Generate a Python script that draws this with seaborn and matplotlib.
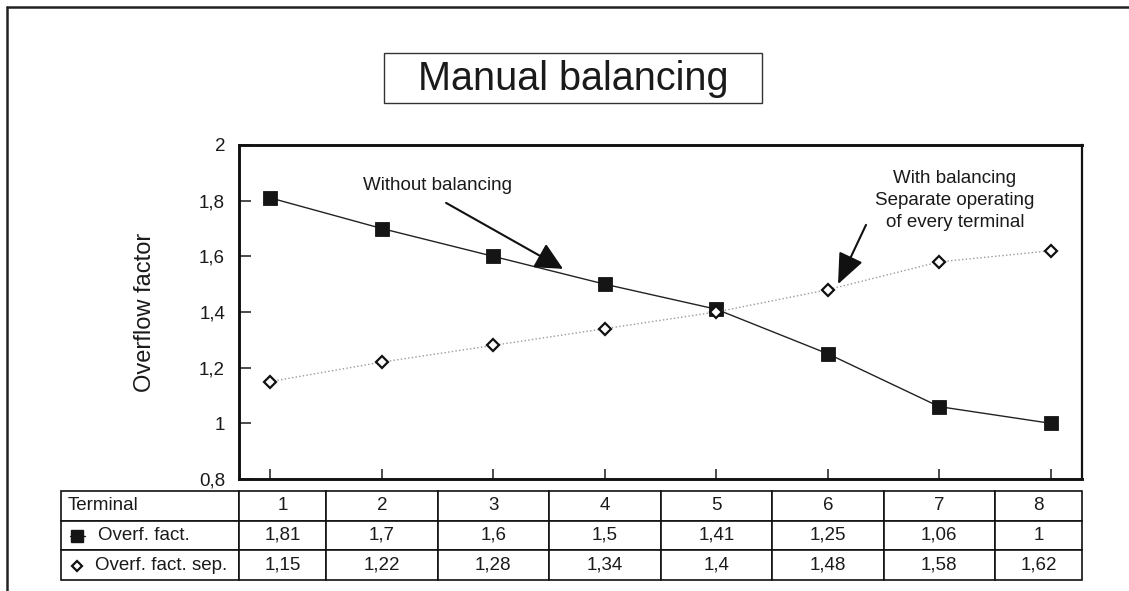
import matplotlib

matplotlib.use("Agg")
import matplotlib.pyplot as plt
import numpy as np
import pandas as pd
import seaborn as sns
from matplotlib.lines import Line2D
from matplotlib.patches import Rectangle
from matplotlib.ticker import FixedLocator, FuncFormatter

# data
terminals = [1, 2, 3, 4, 5, 6, 7, 8]
overf_fact = [1.81, 1.7, 1.6, 1.5, 1.41, 1.25, 1.06, 1.0]
overf_fact_sep = [1.15, 1.22, 1.28, 1.34, 1.4, 1.48, 1.58, 1.62]
y_ticks = [0.8, 1.0, 1.2, 1.4, 1.6, 1.8, 2.0]
row_labels = ["Terminal", "Overf. fact.", "Overf. fact. sep."]

df = pd.DataFrame({"terminal": terminals, "overf": overf_fact, "sep": overf_fact_sep})


def comma(v, pos=None):
    return f"{v:g}".replace(".", ",")


sns.set_theme(style="white")
plt.rcParams["font.family"] = ["Liberation Sans", "DejaVu Sans"]
plt.rcParams["text.color"] = "#1a1a1a"

fig = plt.figure(figsize=(11.29, 5.91), dpi=100)
W, H = 1129, 591
ax = fig.add_axes([239 / W, (H - 479) / H, 843 / W, 334 / H])

# outer frame of the scanned figure (top and left only)
fig.add_artist(Line2D([7 / W, 1], [1 - 7 / H] * 2, transform=fig.transFigure, color="#222", lw=1.8))
fig.add_artist(Line2D([7 / W] * 2, [0, 1 - 7 / H], transform=fig.transFigure, color="#222", lw=1.8))

# title in a box
fig.add_artist(Rectangle((384 / W, 1 - 103 / H), 378 / W, 50 / H, transform=fig.transFigure,
                         fill=False, edgecolor="#333", lw=1.0))
fig.text(573 / W, 1 - 79 / H, "Manual balancing", ha="center", va="center", fontsize=28.5)

# the two series
sns.lineplot(data=df, x="terminal", y="overf", ax=ax, color="#222", lw=1.0,
             marker="s", markersize=9.5, markerfacecolor="#151515", markeredgecolor="#151515",
             markeredgewidth=0.6, zorder=3)
sns.lineplot(data=df, x="terminal", y="sep", ax=ax, color="#9a9a9a", lw=1.0, linestyle=":",
             marker="D", markersize=6.3, markerfacecolor="white", markeredgecolor="#111",
             markeredgewidth=1.6, zorder=4)

ax.set_xlim(0.72, 8.28)
ax.set_ylim(0.8, 2.0)
ax.xaxis.set_major_locator(FixedLocator(terminals))
ax.yaxis.set_major_locator(FixedLocator(y_ticks))
ax.yaxis.set_major_formatter(FuncFormatter(comma))
ax.set_xticklabels([])
ax.set_xlabel("")
ax.set_ylabel("Overflow factor", fontsize=17, color="#1a1a1a")
ax.yaxis.set_label_coords(-0.098, 0.5)
ax.tick_params(axis="y", direction="in", length=8.5, width=1.1, pad=10, labelsize=13.5,
               colors="#1a1a1a", left=True)
ax.tick_params(axis="x", direction="in", length=7.5, width=1.1, bottom=True, colors="#1a1a1a")

for side in ["left", "top", "bottom"]:
    ax.spines[side].set_linewidth(2.1)
    ax.spines[side].set_color("#111")
ax.spines["right"].set_linewidth(1.6)
ax.spines["right"].set_color("#111")

# annotations
ax.text(2.496, 1.856, "Without balancing", ha="center", va="center", fontsize=13.5)
ax.annotate("", xy=(3.626, 1.555), xytext=(2.577, 1.792),
            arrowprops=dict(arrowstyle="-|>,head_length=0.85,head_width=0.42", mutation_scale=20,
                            lw=1.5, color="#111", shrinkA=0, shrinkB=0))
ax.text(7.141, 1.802, "With balancing\nSeparate operating\nof every terminal", ha="center",
        va="center", fontsize=13.5, linespacing=1.38, multialignment="center")
ax.annotate("", xy=(6.092, 1.50), xytext=(6.343, 1.713),
            arrowprops=dict(arrowstyle="-|>,head_length=0.95,head_width=0.4", mutation_scale=20,
                            lw=1.5, color="#111", shrinkA=0, shrinkB=0))

# data table under the plot
cell_text = [
    [row_labels[0]] + [str(t) for t in terminals],
    [row_labels[1]] + [comma(v) for v in overf_fact],
    [row_labels[2]] + [comma(v) for v in overf_fact_sep],
]
step = 1 / 7.56
col_widths = [0.2112, 0.78 * step] + [step] * 6 + [0.78 * step]
table = ax.table(cellText=cell_text, cellLoc="center", colWidths=col_widths,
                 bbox=[-0.2111, -0.3024, 1.2112, 0.2665])
table.auto_set_font_size(False)
table.set_fontsize(13.5)
pads = [0.039, 0.208, 0.191]
for (r, c), cell in table.get_celld().items():
    cell.set_edgecolor("#111")
    cell.set_linewidth(1.2)
    if c == 0:
        cell.set_text_props(ha="left")
        cell.PAD = pads[r]

# legend handles inside the table row labels
ax.plot([-0.2005, -0.1922, -0.1827], [-0.1707] * 3, transform=ax.transAxes, clip_on=False,
        color="#222", lw=1.0, marker="s", markevery=[1], markersize=9,
        markerfacecolor="#151515", markeredgecolor="#151515")
ax.plot([-0.1922], [-0.2605], transform=ax.transAxes, clip_on=False, linestyle="none",
        marker="D", markersize=5.6, markerfacecolor="white", markeredgecolor="#111",
        markeredgewidth=1.6)

fig.savefig("out.png", dpi=100)
